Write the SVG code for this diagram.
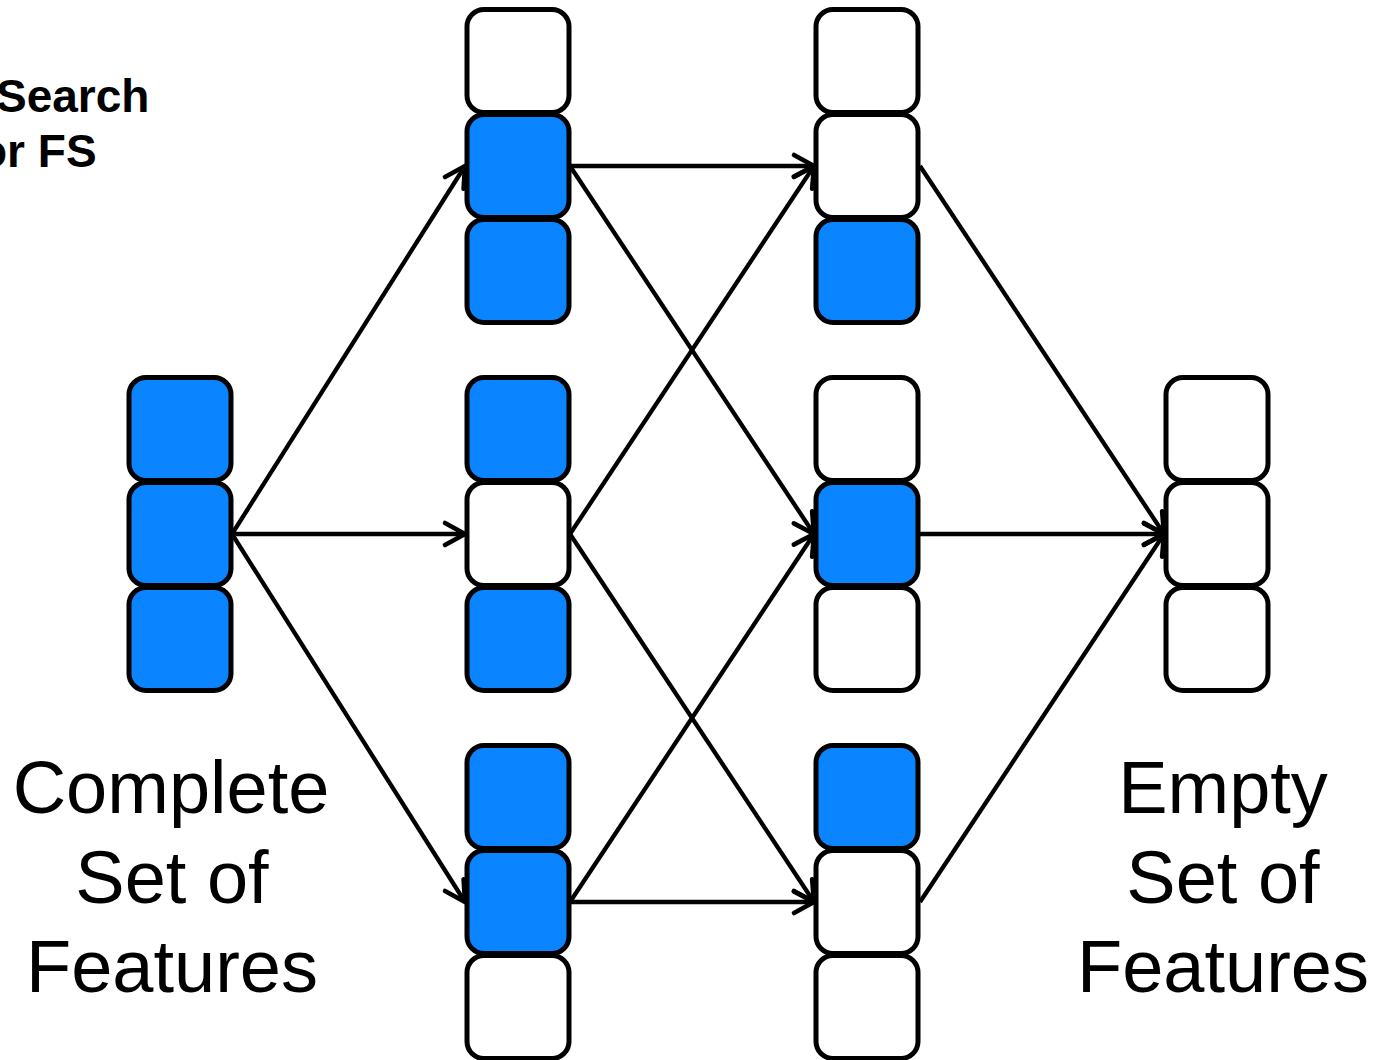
<svg xmlns="http://www.w3.org/2000/svg" width="1384" height="1060" viewBox="0 0 1384 1060">
<defs>
<style>
.on{fill:#0A84FF;stroke:#000;stroke-width:5}
.off{fill:#fff;stroke:#000;stroke-width:5}
.cn line{stroke:#000;stroke-width:4.3;fill:none;marker-end:url(#ah)}
.lbl{font-family:"Liberation Sans",Arial,sans-serif;font-size:74px;fill:#000;text-anchor:middle}
.ttl{font-family:"Liberation Sans",Arial,sans-serif;font-size:46px;font-weight:bold;fill:#000}
</style>
<marker id="ah" markerUnits="userSpaceOnUse" viewBox="-26 -16 30 32" refX="0" refY="0" markerWidth="30" markerHeight="32" orient="auto">
<path d="M-20,-11 L0,0 L-20,11" fill="none" stroke="#000" stroke-width="4.6" stroke-linecap="round" stroke-linejoin="round"/>
</marker>
<rect id="c" width="102" height="103" rx="17"/>
</defs>
<rect width="1384" height="1060" fill="#fff"/>

<text class="ttl" x="-4" y="112">Search</text>
<text class="ttl" x="-21" y="167">or FS</text>

<g id="connectors" class="cn">
<line x1="232" y1="534" x2="465" y2="166"/>
<line x1="232" y1="534" x2="465" y2="534"/>
<line x1="232" y1="534" x2="465" y2="902"/>
<line x1="570" y1="166" x2="814" y2="166"/>
<line x1="570" y1="166" x2="814" y2="534"/>
<line x1="570" y1="534" x2="814" y2="166"/>
<line x1="570" y1="534" x2="814" y2="902"/>
<line x1="570" y1="902" x2="814" y2="534"/>
<line x1="570" y1="902" x2="814" y2="902"/>
<line x1="920" y1="166" x2="1164" y2="534"/>
<line x1="920" y1="534" x2="1164" y2="534"/>
<line x1="920" y1="902" x2="1164" y2="534"/>
</g>

<g id="n-full">
<use href="#c" class="on" x="129" y="377.5"/>
<use href="#c" class="on" x="129" y="482.5"/>
<use href="#c" class="on" x="129" y="587.5"/>
</g>
<g id="n-l1-a">
<use href="#c" class="off" x="467" y="9.5"/>
<use href="#c" class="on" x="467" y="114.5"/>
<use href="#c" class="on" x="467" y="219.5"/>
</g>
<g id="n-l1-b">
<use href="#c" class="on" x="467" y="377.5"/>
<use href="#c" class="off" x="467" y="482.5"/>
<use href="#c" class="on" x="467" y="587.5"/>
</g>
<g id="n-l1-c">
<use href="#c" class="on" x="467" y="745.5"/>
<use href="#c" class="on" x="467" y="850.5"/>
<use href="#c" class="off" x="467" y="955.5"/>
</g>
<g id="n-l2-a">
<use href="#c" class="off" x="816" y="9.5"/>
<use href="#c" class="off" x="816" y="114.5"/>
<use href="#c" class="on" x="816" y="219.5"/>
</g>
<g id="n-l2-b">
<use href="#c" class="off" x="816" y="377.5"/>
<use href="#c" class="on" x="816" y="482.5"/>
<use href="#c" class="off" x="816" y="587.5"/>
</g>
<g id="n-l2-c">
<use href="#c" class="on" x="816" y="745.5"/>
<use href="#c" class="off" x="816" y="850.5"/>
<use href="#c" class="off" x="816" y="955.5"/>
</g>
<g id="n-empty">
<use href="#c" class="off" x="1166" y="377.5"/>
<use href="#c" class="off" x="1166" y="482.5"/>
<use href="#c" class="off" x="1166" y="587.5"/>
</g>

<g id="label-complete">
<text class="lbl" x="171" y="813">Complete</text>
<text class="lbl" x="172" y="903">Set of</text>
<text class="lbl" x="172" y="992">Features</text>
</g>
<g id="label-empty">
<text class="lbl" x="1223" y="813">Empty</text>
<text class="lbl" x="1223" y="903">Set of</text>
<text class="lbl" x="1223" y="992">Features</text>
</g>
</svg>
